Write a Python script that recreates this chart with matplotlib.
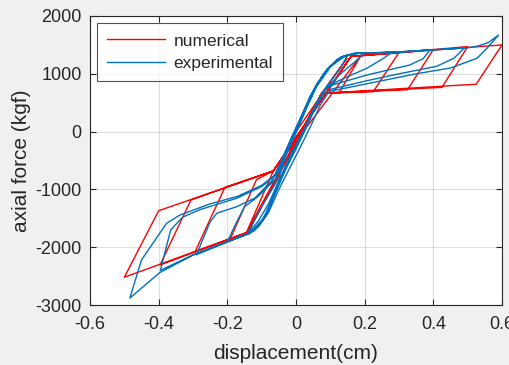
import matplotlib
matplotlib.use("Agg")
import matplotlib.pyplot as plt
import numpy as np

plt.rcParams['font.family'] = ['Liberation Sans', 'DejaVu Sans']

# numerical hysteresis (displacement cm, axial force kgf)
num_disp = [0, 0.148, 0.075, -0.144, -0.066,
            0.19, 0.125, 0.075, -0.14, -0.192, -0.115, -0.066,
            0.16, 0.3, 0.225, 0.075, -0.14, -0.294, -0.207, -0.066,
            0.16, 0.4, 0.325, 0.075, -0.14, -0.396, -0.306, -0.066,
            0.16, 0.5, 0.425, 0.075, -0.14, -0.5, -0.4, -0.066,
            0.16, 0.6, 0.525, 0.075]
num_force = [0, 1268, 662, -1740, -680,
             1325, 665, 662, -1740, -1864, -830, -680,
             1300, 1370, 690, 662, -1740, -2078, -964, -680,
             1300, 1420, 725, 662, -1740, -2308, -1183, -680,
             1300, 1470, 765, 662, -1740, -2520, -1369, -680,
             1300, 1500, 820, 662]

# experimental hysteresis
exp_disp = [0, 0.03, 0.06, 0.1, 0.13, 0.15,
            0.13, 0.1, 0.08, 0.05, 0.02, -0.02, -0.05, -0.08, -0.11, -0.14,
            -0.11, -0.08, -0.05,
            -0.03, 0, 0.03, 0.06, 0.1, 0.14, 0.17, 0.2,
            0.17, 0.13, 0.09, 0.06, 0.03, 0, -0.03, -0.06, -0.09, -0.12, -0.14, -0.2,
            -0.175, -0.15, -0.11, -0.06,
            -0.03, 0, 0.03, 0.06, 0.1, 0.14, 0.17, 0.22, 0.28,
            0.25, 0.206, 0.15, 0.109, 0.08, 0.05, 0.02, -0.02, -0.05, -0.08, -0.1, -0.13, -0.2, -0.29,
            -0.25, -0.23, -0.173, -0.12, -0.07,
            -0.04, -0.01, 0.02, 0.05, 0.09, 0.13, 0.17, 0.25, 0.32, 0.39,
            0.37, 0.33, 0.206, 0.09, 0.06, 0.03, 0, -0.03, -0.06, -0.095, -0.134, -0.2, -0.3, -0.395,
            -0.365, -0.33, -0.28, -0.173, -0.1, -0.06,
            -0.03, 0, 0.03, 0.06, 0.1, 0.14, 0.18, 0.3, 0.4, 0.49,
            0.46, 0.41, 0.3, 0.206, 0.1, 0.07, 0.04, 0.01, -0.02, -0.05, -0.08, -0.11, -0.14, -0.2, -0.3, -0.397, -0.484,
            -0.45, -0.377, -0.338, -0.25, -0.17, -0.1, -0.05,
            -0.02, 0.01, 0.04, 0.08, 0.12, 0.17, 0.3, 0.4, 0.5, 0.53, 0.56, 0.59,
            0.556, 0.527, 0.45, 0.35, 0.2, 0.1]
exp_force = [0, 420, 800, 1130, 1280, 1320,
             1100, 870, 700, 380, 0, -450, -850, -1250, -1550, -1760,
             -1400, -1100, -800,
             -420, -20, 400, 780, 1120, 1300, 1350, 1360,
             1200, 1000, 760, 450, 80, -300, -650, -1050, -1480, -1710, -1770, -1905,
             -1590, -1300, -1120, -820,
             -400, 0, 420, 800, 1130, 1310, 1350, 1360, 1370,
             1250, 1095, 950, 835, 700, 350, -50, -500, -900, -1350, -1550, -1740, -1910, -2130,
             -1560, -1410, -1300, -1150, -850,
             -480, -60, 320, 700, 1080, 1290, 1350, 1365, 1385, 1410,
             1260, 1150, 979, 777, 480, 100, -280, -640, -1050, -1500, -1760, -1905, -2135, -2400,
             -1700, -1480, -1350, -1154, -950, -760,
             -330, 50, 450, 820, 1140, 1310, 1355, 1375, 1415, 1445,
             1270, 1130, 1000, 880, 730, 450, 60, -300, -650, -1000, -1400, -1650, -1770, -1905, -2135, -2440, -2880,
             -2220, -1587, -1443, -1250, -1120, -930, -700,
             -250, 180, 600, 1000, 1250, 1355, 1380, 1415, 1450, 1480, 1540, 1670,
             1441, 1268, 1100, 1000, 820, 700]

x_ticks = [-0.6, -0.4, -0.2, 0, 0.2, 0.4, 0.6]
x_tick_labels = ['-0.6', '-0.4', '-0.2', '0', '0.2', '0.4', '0.6']
y_ticks = [-3000, -2000, -1000, 0, 1000, 2000]
y_tick_labels = ['-3000', '-2000', '-1000', '0', '1000', '2000']

fig = plt.figure(figsize=(5.09, 3.65), dpi=100, facecolor='#f0f0f0')
ax = fig.add_axes([90/509, 60/365, 412/509, 289/365])
ax.set_facecolor('white')

ax.plot(num_disp, num_force, color=(1, 0, 0), lw=1.0, label='numerical')
ax.plot(exp_disp, exp_force, color=(0, 0.447, 0.741), lw=1.0, label='experimental')

ax.set_xlim(-0.6, 0.6)
ax.set_ylim(-3000, 2000)
ax.set_xticks(x_ticks)
ax.set_xticklabels(x_tick_labels)
ax.set_yticks(y_ticks)
ax.set_yticklabels(y_tick_labels)

dark = (0.15, 0.15, 0.15)
ax.grid(True, color=(0.15, 0.15, 0.15), alpha=0.15, lw=0.8)
ax.set_axisbelow(True)
for s in ax.spines.values():
    s.set_color(dark)
    s.set_linewidth(0.8)
ax.tick_params(direction='in', length=4, width=0.8, colors=dark,
               labelsize=13, top=True, right=True, pad=6)
ax.tick_params(axis='x', pad=8)

ax.set_xlabel('displacement(cm)', fontsize=15, color=dark, labelpad=8)
ax.set_ylabel('axial force (kgf)', fontsize=15, color=dark, labelpad=3)

leg = ax.legend(loc='upper left', fontsize=12.5, handlelength=3.3, handletextpad=0.5,
                borderaxespad=0.4, frameon=True, fancybox=False, borderpad=0.6,
                labelspacing=0.4)
leg.get_frame().set_edgecolor(dark)
leg.get_frame().set_linewidth(0.8)
for t in leg.get_texts():
    t.set_color(dark)

fig.savefig('out.png', dpi=100, facecolor=fig.get_facecolor())
